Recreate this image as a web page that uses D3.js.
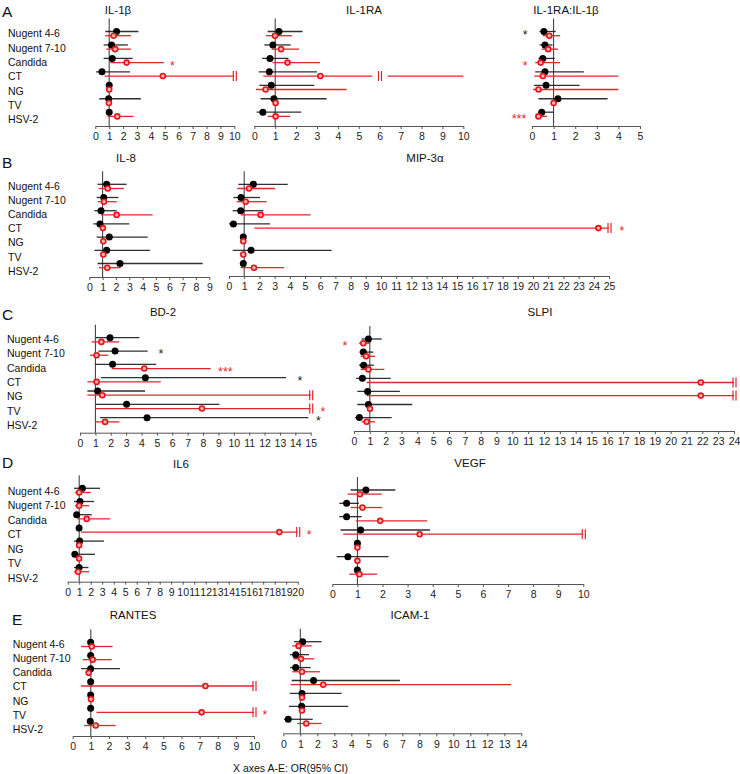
<!DOCTYPE html>
<html><head><meta charset="utf-8">
<script src="https://cdn.jsdelivr.net/npm/d3@7"></script>
<style>body{margin:0;background:#fff} svg{display:block} text{font-family:"Liberation Sans",Arial,sans-serif}</style>
</head><body>
<svg id="c" width="740" height="774"></svg>
<script>
const rowLabels = ["Nugent 4-6","Nugent 7-10","Candida","CT","NG","TV","HSV-2"];
// each entry: [OR, lower CI, upper CI, truncated flag]
const il1b_black = [[1.53,0.72,3.1],[1.17,0.6,2.34],[1.22,0.6,2.68],[0.48,0.05,2.5],[1.0],[0.96,0.29,3.28],[1.0]];
const il1b_red   = [[1.32,0.72,2.56],[1.43,0.79,2.56],[2.25,1.08,4.93],[4.86,0.67,10,1],[1.0],[0.98],[1.58,0.88,2.75]];
const il1ra_black = [[1.18,0.64,2.31],[0.89,0.48,1.74],[0.75,0.37,1.63],[0.72,0.21,3.0],[0.81,0.24,2.87],[0.94,0.3,3.46],[0.41,0.11,2.25]];
const il1ra_red   = [[0.99,0.56,1.8],[1.28,0.83,2.14],[1.59,0.88,3.14],[3.16,0.43,10],[0.54,0.08,4.42],[1.02],[1.02,0.64,1.71]];
const il1ra_break = [3, 5.65, 6.38]; // row, gap start, gap end (red series)
const ratio_black = [[0.55,0.35,1.1],[0.6,0.35,0.95],[0.5,0.3,1.05],[0.6,0.15,2.4],[0.65,0.1,2.2],[1.2,0.3,3.5],[0.45,0.3,1.0]];
const ratio_red   = [[0.8,0.5,1.3],[0.75,0.45,1.2],[0.4,0.15,1.3],[0.5,0.1,4.0],[0.3,0.05,4.0],[1.0],[0.3,0.15,0.7]];
const il8_black = [[1.3,0.62,2.8],[1.08,0.55,2.18],[0.88,0.38,2.05],[0.8,0.3,3.0],[1.5,0.55,4.38],[1.3,0.38,4.55],[2.3,0.62,8.5]];
const il8_red   = [[1.38,0.72,2.6],[1.1,0.62,2.05],[2.05,0.88,4.75],[1.02],[1.05],[1.05],[1.35,0.72,2.35]];
const mip_black = [[1.6,0.61,3.86],[0.79,0.29,2.04],[0.77,0.24,2.26],[0.29,0.0,2.7],[0.94],[1.45,0.24,6.75],[0.94]];
const mip_red   = [[1.32,0.55,3.03],[1.1,0.5,2.48],[2.08,0.79,5.37],[24.3,1.67,25,1],[0.94],[0.94],[1.64,0.77,3.62]];
const bd2_black = [[1.95,1.04,3.86],[2.28,1.19,4.4],[2.12,0.98,4.96],[4.25,1.37,13.4],[1.15,0.48,4.23],[3.03,1.04,9.06],[4.36,1.3,14.85]];
const bd2_red   = [[1.39,0.76,2.54],[1.08,0.65,1.84],[4.18,2.06,8.5],[1.08,0.48,5.25],[1.45,0.48,15,1],[7.93,1.04,15,1],[1.63,0.98,2.56]];
const slpi_black = [[0.91,0.48,1.75],[0.59,0.34,1.22],[0.61,0.32,1.26],[0.53,0.13,2.32],[0.86,0.21,2.9],[0.91,0.21,3.68],[0.34,0.06,2.38]];
const slpi_red   = [[0.59,0.32,1.01],[0.76,0.42,1.33],[0.91,0.42,1.92],[21.9,0.8,24,1],[21.9,0.8,24,1],[1.01],[0.8,0.48,1.33]];
const il6_black = [[1.28,0.55,2.81],[1.07,0.55,2.29],[0.78,0.55,2.09],[0.99],[1.04,0.55,3.16],[0.62,0.55,2.38],[0.99,0.55,1.8]];
const il6_red   = [[0.99,0.64,2.0],[0.99,0.64,1.86],[1.65,0.84,3.68],[18.4,1.16,20,1],[0.99],[0.99],[0.9,0.55,1.86]];
const vegf_black = [[1.34,0.73,2.51],[0.57,0.28,1.06],[0.57,0.28,1.17],[1.13,0.33,3.89],[1.0],[0.62,0.17,2.24],[1.0]];
const vegf_red   = [[1.1,0.61,1.97],[1.2,0.73,1.98],[1.91,0.94,3.78],[3.48,0.44,10,1],[1.0],[1.0],[1.08,0.68,1.79]];
const rantes_black = [[0.99],[0.99],[0.99,0.46,2.61],[0.99],[0.99],[0.99],[0.97]];
const rantes_red   = [[1.05,0.46,2.2],[1.1,0.55,2.15],[0.88],[7.32,0.46,10,1],[1.01],[7.11,1.32,10,1],[1.27,0.63,2.37]];
const icam_black = [[1.14,0.63,2.25],[0.73,0.39,1.51],[0.73,0.39,1.61],[1.78,0.49,6.86],[1.1,0.39,3.43],[1.08,0.33,3.82],[0.29,0.04,1.73]];
const icam_red   = [[0.9,0.53,1.67],[1.04,0.59,1.82],[1.1,0.53,2.16],[2.35,0.43,13.4],[1.1],[1.1],[1.35,0.82,2.25]];
// significance marks: panel, row, series, text, x position (OR units)
const stars = [
  ["il1b",2,"red","*",5.55],
  ["ratio",0,"black","*",-0.32],["ratio",2,"red","*",-0.32],["ratio",6,"red","***",-0.6],
  ["mip",3,"red","*",25.85],
  ["bd2",1,"black","*",5.27],["bd2",2,"red","***",9.45],["bd2",3,"black","*",14.3],["bd2",5,"red","*",15.8],["bd2",6,"black","*",15.5],
  ["slpi",0,"red","*",-0.57],
  ["il6",3,"red","*",21],
  ["rantes",5,"red","*",10.6]
];
const panelLetters = ["A","B","C","D","E"];

const svg = d3.select("#c");
const RED = "#e3262b", BLACK = "#1a1a1a";

const panels = [
  {key:"il1b", title:"IL-1β", max:10, x0:95.3, x1:234.3, axisY:126, y0:31.5, step:13.45, tx:118, ty:10, black:il1b_black, red:il1b_red},
  {key:"il1ra", title:"IL-1RA", max:10, x0:254.3, x1:463.3, axisY:126, y0:31.5, step:13.45, tx:364, ty:10, black:il1ra_black, red:il1ra_red},
  {key:"ratio", title:"IL-1RA:IL-1β", max:5, x0:532, x1:640, axisY:126, y0:31.5, step:13.45, tx:566, ty:10, black:ratio_black, red:ratio_red},
  {key:"il8", title:"IL-8", max:9, x0:89.3, x1:209.3, axisY:277, y0:184.3, step:13.2, tx:126, ty:158, black:il8_black, red:il8_red},
  {key:"mip", title:"MIP-3α", max:25, x0:229, x1:609, axisY:276, y0:184.3, step:13.2, tx:425, ty:158, black:mip_black, red:mip_red},
  {key:"bd2", title:"BD-2", max:15, x0:80, x1:310.7, axisY:432.7, y0:337.7, step:13.33, tx:163, ty:312, black:bd2_black, red:bd2_red},
  {key:"slpi", title:"SLPI", max:24, x0:354, x1:734, axisY:431, y0:339, step:13.1, tx:540, ty:312, black:slpi_black, red:slpi_red},
  {key:"il6", title:"IL6", max:20, x0:67.7, x1:297.7, axisY:581.7, y0:488.3, step:13.2, tx:181, ty:464, black:il6_black, red:il6_red},
  {key:"vegf", title:"VEGF", max:10, x0:332.3, x1:583.3, axisY:584, y0:490, step:13.33, tx:470, ty:463, black:vegf_black, red:vegf_red},
  {key:"rantes", title:"RANTES", max:10, x0:72.7, x1:254, axisY:736, y0:642.3, step:13.17, tx:133, ty:615, black:rantes_black, red:rantes_red},
  {key:"icam", title:"ICAM-1", max:14, x0:283.3, x1:521.3, axisY:733.3, y0:641.7, step:12.93, tx:410, ty:615, black:icam_black, red:icam_red}
];

const labelBlocks = [
  {x:8, y0:33.5, step:14.3, lx:2, ly:17, letter:0},
  {x:8, y0:185.7, step:14.2, lx:2, ly:167.5, letter:1},
  {x:7, y0:339, step:14.4, lx:2, ly:319.5, letter:2},
  {x:7.7, y0:491, step:14.45, lx:2, ly:468, letter:3},
  {x:12.7, y0:644, step:14.2, lx:12, ly:625, letter:4}
];

labelBlocks.forEach(b => {
  svg.append("text").attr("x", b.lx).attr("y", b.ly).attr("font-size", 15.5).attr("fill", "#111").text(panelLetters[b.letter]);
  svg.append("g").selectAll("text").data(rowLabels).join("text")
    .attr("x", b.x).attr("y", (d,i) => b.y0 + i*b.step + 3.8)
    .attr("font-size", 10.5).attr("fill", "#111").attr("xml:space","preserve").text(d => d);
});

panels.forEach(p => {
  const x = d3.scaleLinear().domain([0, p.max]).range([p.x0, p.x1]);
  const g = svg.append("g");
  const yB = i => p.y0 + i*p.step;
  const yR = i => p.y0 + i*p.step + 4.2;

  g.append("text").attr("x", p.tx).attr("y", p.ty + 4).attr("text-anchor","middle")
    .attr("font-size", 11.5).attr("fill","#111").text(p.title);

  const axis = d3.axisBottom(x).tickValues(d3.range(0, p.max + 1)).tickSize(3).tickSizeOuter(0)
    .tickPadding(4).tickFormat(d3.format("d"));
  const ag = g.append("g").attr("transform", `translate(0,${p.axisY})`).call(axis);
  ag.select(".domain").attr("stroke", "#555");
  ag.selectAll(".tick line").attr("stroke", "#555");
  ag.selectAll(".tick text").attr("font-size", 10.5).attr("fill", "#222")
    .attr("font-family", '"Liberation Sans",Arial,sans-serif');

  g.append("line").attr("x1", x(1)).attr("x2", x(1)).attr("y1", p.y0 - 13).attr("y2", p.axisY)
    .attr("stroke", "#333").attr("stroke-width", 1);

  const series = [
    {data:p.black, y:yB, color:BLACK, name:"black"},
    {data:p.red, y:yR, color:RED, name:"red"}
  ];
  series.forEach(s => {
    s.data.forEach((d,i) => {
      if (d.length < 3) return;
      const yy = s.y(i);
      if (p.key === "il1ra" && s.name === "red" && i === il1ra_break[0]) {
        const a = il1ra_break[1], b = il1ra_break[2];
        g.append("line").attr("x1", x(d[1])).attr("x2", x(a)).attr("y1", yy).attr("y2", yy)
          .attr("stroke", s.color).attr("stroke-width", 1.3);
        g.append("line").attr("x1", x(b)).attr("x2", x(d[2])).attr("y1", yy).attr("y2", yy)
          .attr("stroke", s.color).attr("stroke-width", 1.3);
        const m = x((a + b) / 2);
        [m - 1.5, m + 1.5].forEach(bx => g.append("line").attr("x1", bx).attr("x2", bx)
          .attr("y1", yy - 5).attr("y2", yy + 5).attr("stroke", s.color).attr("stroke-width", 1.2));
        return;
      }
      g.append("line").attr("x1", x(d[1])).attr("x2", x(d[2])).attr("y1", yy).attr("y2", yy)
        .attr("stroke", s.color).attr("stroke-width", 1.3).attr("opacity", s.name === "black" ? 0.9 : 1);
      if (d[3]) {
        const e = x(d[2]);
        [e - 1, e + 2].forEach(bx => g.append("line").attr("x1", bx).attr("x2", bx)
          .attr("y1", yy - 5).attr("y2", yy + 5).attr("stroke", s.color).attr("stroke-width", 1.2));
      }
    });
  });
  g.append("g").selectAll("circle").data(p.black).join("circle")
    .attr("cx", d => x(d[0])).attr("cy", (d,i) => yB(i)).attr("r", 3.5).attr("fill", "#000");
  g.append("g").selectAll("circle").data(p.red).join("circle")
    .attr("cx", d => x(d[0])).attr("cy", (d,i) => yR(i)).attr("r", 2.5)
    .attr("fill", "#f6b3b3").attr("stroke", "#e8141b").attr("stroke-width", 1.6);

  stars.filter(s => s[0] === p.key).forEach(s => {
    const yy = s[2] === "red" ? yR(s[1]) : yB(s[1]);
    g.append("text").attr("x", x(s[4])).attr("y", yy + 7).attr("text-anchor", "middle")
      .attr("font-size", 12.5).attr("fill", s[2] === "red" ? RED : "#222").text(s[3]);
  });
});

svg.append("text").attr("x", 233).attr("y", 772).attr("font-size", 10.5).attr("fill", "#111")
  .text("X axes A-E: OR(95% CI)");
</script>
</body></html>
